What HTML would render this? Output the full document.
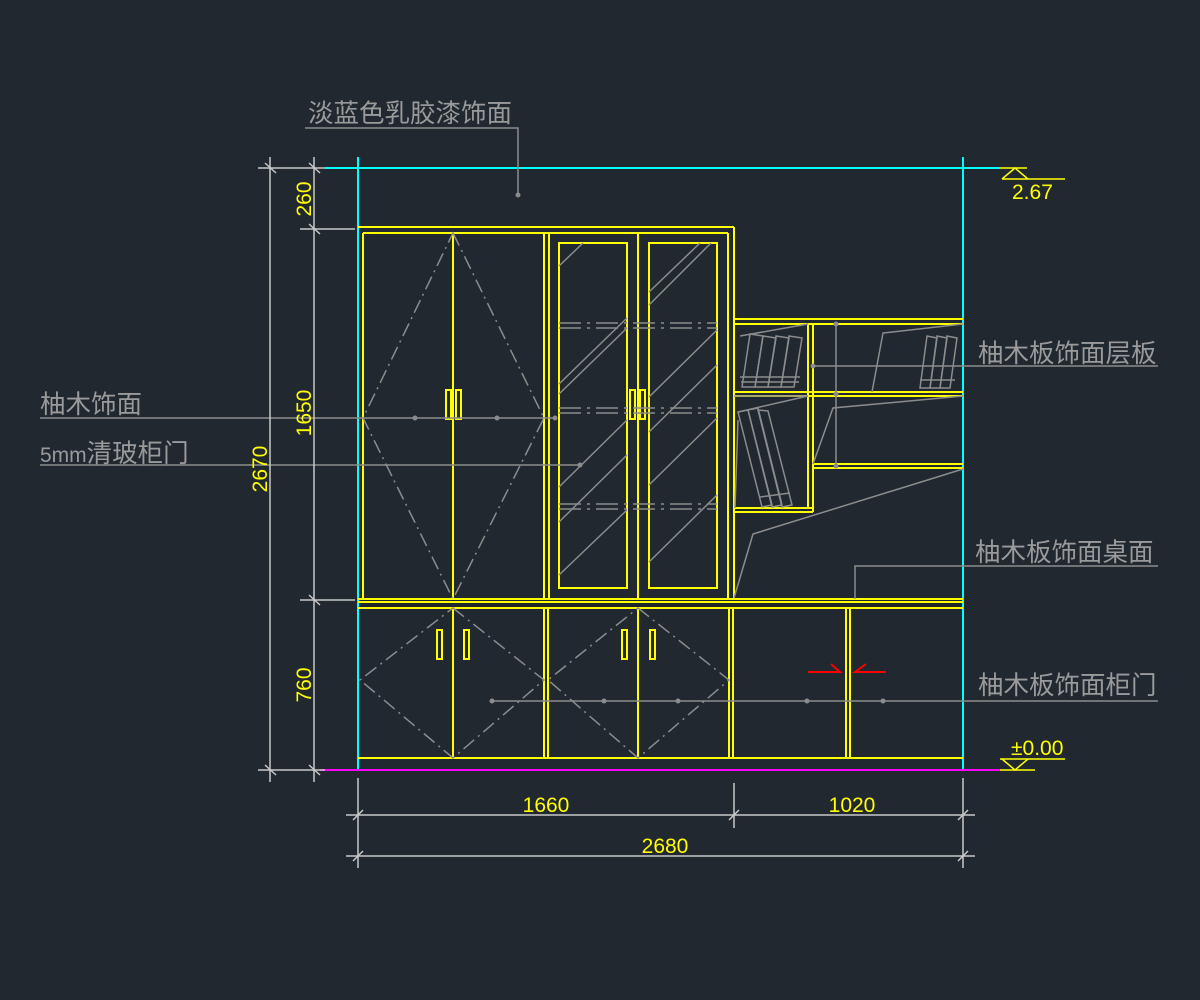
<!DOCTYPE html>
<html><head><meta charset="utf-8"><style>
html,body{margin:0;padding:0;background:#212830;}
svg{display:block}
.y{stroke:#ffff00;stroke-width:2;fill:none}
.g{stroke:#8c8c8c;stroke-width:1.5;fill:none}
.gd{stroke:#8c8c8c;stroke-width:1.5;fill:none;stroke-dasharray:14 5 2 5}
.w{stroke:#c8c8c8;stroke-width:1.5;fill:none}
.c{stroke:#00ffff;stroke-width:2;fill:none}
.lab{font-family:"Liberation Sans","Noto Sans CJK SC",sans-serif;font-size:25.5px;fill:#9a9a9a}
.num{font-family:"Liberation Sans Narrow","Liberation Sans",sans-serif;font-size:21px;fill:#ffff00}
</style></head><body>
<svg width="1200" height="1000" viewBox="0 0 1200 1000" xmlns="http://www.w3.org/2000/svg">
<rect width="1200" height="1000" fill="#212830"/>
<line class="c" x1="358" y1="157" x2="358" y2="770"/>
<line class="c" x1="963" y1="157" x2="963" y2="770"/>
<line class="c" x1="325" y1="168" x2="1000" y2="168"/>
<line x1="320" y1="770" x2="1000" y2="770" stroke="#ff00ff" stroke-width="2"/>

<line class="y" x1="358" y1="227" x2="734" y2="227"/>
<line class="y" x1="363" y1="233" x2="728" y2="233"/>
<line class="y" x1="363" y1="233" x2="363" y2="599"/>
<line class="y" x1="544" y1="233" x2="544" y2="599"/>
<line class="y" x1="549" y1="233" x2="549" y2="599"/>
<line class="y" x1="453" y1="233" x2="453" y2="599"/>
<line class="y" x1="638" y1="233" x2="638" y2="599"/>
<line class="y" x1="728" y1="233" x2="728" y2="599"/>
<line class="y" x1="734" y1="227" x2="734" y2="599"/>
<rect class="y" x="559" y="243" width="68" height="345"/>
<rect class="y" x="649" y="243" width="68" height="345"/>
<rect class="y" x="446" y="390" width="5" height="29"/>
<rect class="y" x="456" y="390" width="5" height="29"/>
<rect class="y" x="630" y="390" width="5" height="29"/>
<rect class="y" x="640" y="390" width="5" height="29"/>
<polygon class="gd" points="453,233 544,418 453,599 363,418"/>
<g class="g" stroke-dasharray="22 6 3 6">
<line x1="559" y1="323" x2="717" y2="323"/><line x1="559" y1="328" x2="717" y2="328"/>
<line x1="559" y1="408" x2="717" y2="408"/><line x1="559" y1="413" x2="717" y2="413"/>
<line x1="559" y1="504" x2="717" y2="504"/><line x1="559" y1="509" x2="717" y2="509"/>
</g>
<g class="g">
<line x1="559" y1="266" x2="583" y2="243"/>
<line x1="559" y1="384" x2="627" y2="318"/>
<line x1="559" y1="394" x2="627" y2="328"/>
<line x1="559" y1="487" x2="627" y2="420"/>
<line x1="559" y1="522" x2="627" y2="455"/>
<line x1="559" y1="575" x2="627" y2="510"/>
<line x1="649" y1="292" x2="700" y2="243"/>
<line x1="649" y1="305" x2="711" y2="243"/>
<line x1="649" y1="397" x2="717" y2="330"/>
<line x1="649" y1="432" x2="717" y2="365"/>
<line x1="649" y1="485" x2="717" y2="418"/>
<line x1="649" y1="562" x2="717" y2="495"/>
</g>

<line class="y" x1="358" y1="599" x2="963" y2="599"/>
<line class="y" x1="358" y1="602" x2="963" y2="602"/>
<line class="y" x1="358" y1="608" x2="963" y2="608"/>
<line class="y" x1="358" y1="758" x2="963" y2="758"/>
<line class="y" x1="544" y1="608" x2="544" y2="758"/>
<line class="y" x1="548" y1="608" x2="548" y2="758"/>
<line class="y" x1="453" y1="608" x2="453" y2="758"/>
<line class="y" x1="638" y1="608" x2="638" y2="758"/>
<line class="y" x1="729" y1="608" x2="729" y2="758"/>
<line class="y" x1="733" y1="608" x2="733" y2="758"/>
<line class="y" x1="846" y1="608" x2="846" y2="758"/>
<line class="y" x1="850" y1="608" x2="850" y2="758"/>
<rect class="y" x="437" y="630" width="5" height="29"/>
<rect class="y" x="464" y="630" width="5" height="29"/>
<rect class="y" x="622" y="630" width="5" height="29"/>
<rect class="y" x="650" y="630" width="5" height="29"/>
<polygon class="gd" points="453,608 544,680 453,758 360,680"/>
<polygon class="gd" points="638,608 729,680 638,758 548,680"/>
<g stroke="#ff0000" stroke-width="2" fill="none">
<polyline points="808,672 840,672 831,664"/>
<polyline points="886,672 855,672 866,664"/>
</g>

<line class="y" x1="734" y1="319" x2="963" y2="319"/>
<line class="y" x1="734" y1="324" x2="963" y2="324"/>
<line class="y" x1="734" y1="392" x2="963" y2="392"/>
<line class="y" x1="734" y1="396" x2="963" y2="396"/>
<line class="y" x1="813" y1="464" x2="963" y2="464"/>
<line class="y" x1="813" y1="468" x2="963" y2="468"/>
<line class="y" x1="734" y1="508" x2="813" y2="508"/>
<line class="y" x1="734" y1="512" x2="813" y2="512"/>
<line class="y" x1="808" y1="324" x2="808" y2="508"/>
<line class="y" x1="813" y1="324" x2="813" y2="512"/>
<g class="g">
<polyline points="734,598 753,534 963,469"/>
<polyline points="813,464 833,408 963,396"/>
<polyline points="872,392 883,333 963,324"/>
<line x1="734" y1="396" x2="808" y2="396"/>
<line x1="740" y1="336" x2="808" y2="324"/>
<line x1="738" y1="412" x2="808" y2="396"/>
<line x1="836" y1="324" x2="836" y2="466"/>
</g>
<g fill="#8c8c8c"><circle cx="836" cy="324" r="2.5"/><circle cx="836" cy="394" r="2.5"/><circle cx="836" cy="466" r="2.5"/></g>
<g class="g" stroke-width="1.2">
<polygon points="742,387 755,387 763,336 750,334"/>
<polygon points="755,387 768,387 776,338 763,336"/>
<polygon points="768,387 781,387 789,338 776,336"/>
<polygon points="781,387 794,387 802,338 789,336"/>
<line x1="740" y1="377" x2="800" y2="377"/>
<line x1="741" y1="382" x2="799" y2="382"/>
<polygon points="738,412 748,410 772,505 762,507"/>
<polygon points="748,410 758,408 782,505 772,507"/>
<polygon points="758,410 768,411 792,505 782,507"/>
<line x1="760" y1="497" x2="790" y2="493"/>
<line x1="738" y1="420" x2="735" y2="508"/>
<polygon points="920,388 930,388 937,338 927,336"/>
<polygon points="930,388 940,388 947,338 937,336"/>
<polygon points="940,388 950,388 957,338 947,336"/>
<line x1="920" y1="380" x2="955" y2="380"/>
</g>

<g class="g">
<polyline points="305,128 518,128 518,195"/>
<line x1="40" y1="418" x2="555" y2="418"/>
<line x1="40" y1="465" x2="580" y2="465"/>
<line x1="813" y1="366" x2="1158" y2="366"/>
<polyline points="855,599 855,566 1158,566"/>
<line x1="492" y1="701" x2="1158" y2="701"/>
</g>
<g fill="#8c8c8c">
<circle cx="518" cy="195" r="2.5"/>
<circle cx="415" cy="418" r="2.5"/><circle cx="497" cy="418" r="2.5"/><circle cx="555" cy="418" r="2.5"/>
<circle cx="580" cy="465" r="2.5"/><circle cx="813" cy="366" r="2.5"/>
<circle cx="492" cy="701" r="2.5"/><circle cx="604" cy="701" r="2.5"/><circle cx="678" cy="701" r="2.5"/><circle cx="807" cy="701" r="2.5"/><circle cx="883" cy="701" r="2.5"/>
</g>
<text class="lab" x="308" y="122">淡蓝色乳胶漆饰面</text>
<text class="lab" x="40" y="413">柚木饰面</text>
<text class="lab" x="40" y="462"><tspan font-size="21">5mm</tspan>清玻柜门</text>
<text class="lab" x="978" y="362">柚木板饰面层板</text>
<text class="lab" x="975" y="561">柚木板饰面桌面</text>
<text class="lab" x="978" y="694">柚木板饰面柜门</text>

<g class="w">
<line x1="270" y1="157" x2="270" y2="782"/>
<line x1="314" y1="157" x2="314" y2="782"/>
<line x1="258" y1="168" x2="325" y2="168"/>
<line x1="300" y1="229" x2="355" y2="229"/>
<line x1="300" y1="600" x2="355" y2="600"/>
<line x1="258" y1="770" x2="325" y2="770"/>
<line x1="265" y1="163" x2="276" y2="173"/><line x1="309" y1="163" x2="320" y2="173"/>
<line x1="309" y1="224" x2="320" y2="234"/><line x1="309" y1="595" x2="320" y2="605"/>
<line x1="265" y1="765" x2="276" y2="775"/><line x1="309" y1="765" x2="320" y2="775"/>
</g>
<text class="num" transform="translate(311,199) rotate(-90)" text-anchor="middle">260</text>
<text class="num" transform="translate(311,413) rotate(-90)" text-anchor="middle">1650</text>
<text class="num" transform="translate(311,685) rotate(-90)" text-anchor="middle">760</text>
<text class="num" transform="translate(267,469) rotate(-90)" text-anchor="middle">2670</text>

<g class="w">
<line x1="358" y1="778" x2="358" y2="868"/>
<line x1="734" y1="783" x2="734" y2="828"/>
<line x1="963" y1="778" x2="963" y2="868"/>
<line x1="346" y1="815" x2="975" y2="815"/>
<line x1="346" y1="856" x2="975" y2="856"/>
<line x1="353" y1="820" x2="363" y2="810"/><line x1="729" y1="820" x2="739" y2="810"/><line x1="958" y1="820" x2="968" y2="810"/>
<line x1="353" y1="861" x2="363" y2="851"/><line x1="958" y1="861" x2="968" y2="851"/>
</g>
<text class="num" x="546" y="812" text-anchor="middle">1660</text>
<text class="num" x="852" y="812" text-anchor="middle">1020</text>
<text class="num" x="665" y="853" text-anchor="middle">2680</text>

<g stroke="#ffff00" stroke-width="1.5" fill="none">
<line x1="1000" y1="168" x2="1027" y2="168"/>
<polyline points="1002,179 1015,168 1028,179"/>
<line x1="1002" y1="179" x2="1065" y2="179"/>
<line x1="1000" y1="759" x2="1065" y2="759"/>
<polyline points="1002,759 1015,770 1028,759"/>
<line x1="1000" y1="770" x2="1035" y2="770"/>
</g>
<text class="num" x="1012" y="199" font-size="20">2.67</text>
<text class="num" x="1011" y="755" font-size="19">±0.00</text>
</svg>
</body></html>
